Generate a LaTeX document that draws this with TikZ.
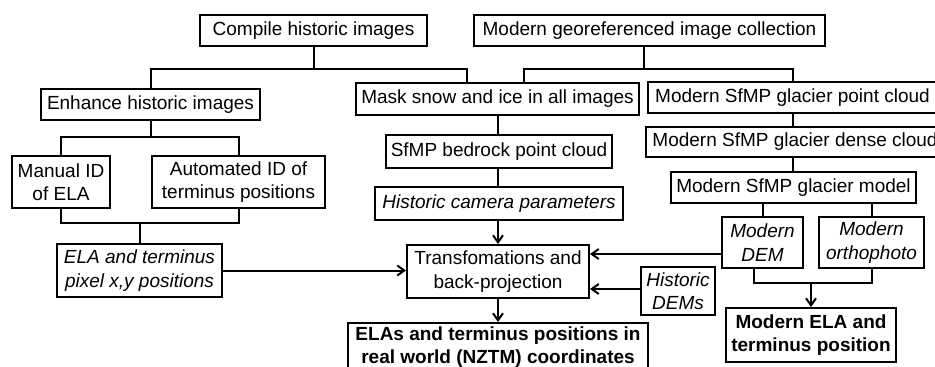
\documentclass[tikz,border=0pt]{standalone}
\usepackage{fontspec}
\setmainfont{Liberation Sans}
\usetikzlibrary{arrows.meta}
\begin{document}
\begin{tikzpicture}[x=1pt,y=-1pt,
  box/.style={draw, line width=2pt, inner sep=0pt, align=center, font=\fontsize{19}{23.5}\selectfont},
  boxit/.style={box, font=\fontsize{19}{23.5}\selectfont\itshape},
  boxbf/.style={box, font=\fontsize{19}{23}\selectfont\bfseries},
  conn/.style={line width=2pt},
  arr/.style={conn, -{Straight Barb[length=7pt,width=10pt]}}]
\useasboundingbox (0,0) rectangle (935,367);
\fill[white] (0,0) rectangle (935,367);
% nodes
\node[box, minimum width=227pt, minimum height=31pt] (compile) at (313.5,30.5) {Compile historic images};
\node[box, minimum width=351pt, minimum height=31pt] (modern) at (649.5,30.5) {Modern georeferenced image collection};
\node[box, minimum width=219pt, minimum height=31pt] (enhance) at (150.5,104.5) {Enhance historic images};
\node[box, minimum width=283pt, minimum height=32pt] (mask) at (497.5,99) {Mask snow and ice in all images};
\node[box, minimum width=289pt, minimum height=31pt] (pcloud) at (792.5,97.5) {Modern SfMP glacier point cloud};
\node[box, minimum width=298pt, minimum height=30pt] (dcloud) at (795,142) {Modern SfMP glacier dense cloud};
\node[box, minimum width=245pt, minimum height=31pt] (gmodel) at (793.5,187.5) {Modern SfMP glacier model};
\node[boxit, minimum width=81pt, minimum height=51pt] (mdem) at (762.5,242.5) {Modern\\DEM};
\node[boxit, minimum width=105pt, minimum height=51pt] (ortho) at (871.5,242.5) {Modern\\orthophoto};
\node[boxbf, minimum width=170pt, minimum height=54pt] (mela) at (811,335) {Modern ELA and\\terminus position};
\node[boxit, minimum width=74pt, minimum height=48pt] (hdem) at (678,291) {Historic\\DEMs};
\node[box, minimum width=182pt, minimum height=53pt] (trans) at (498,271.5) {Transfomations and\\back-projection};
\node[boxbf, minimum width=300pt, minimum height=48pt] (elas) at (498,347) {ELAs and terminus positions in\\real world (NZTM) coordinates};
\node[box, minimum width=226pt, minimum height=33pt] (bedrock) at (499,151.5) {SfMP bedrock point cloud};
\node[boxit, minimum width=248pt, minimum height=33pt] (camera) at (499,203.5) {Historic camera parameters};
\node[box, minimum width=98pt, minimum height=52pt] (manual) at (61,182) {Manual ID\\of ELA};
\node[box, minimum width=173pt, minimum height=52pt] (auto) at (238.5,182) {Automated ID of\\terminus positions};
\node[boxit, minimum width=165pt, minimum height=53pt] (elapix) at (139.5,270.5) {ELA and terminus\\pixel x,y positions};
% junction coordinates
\coordinate (jr) at (467,69);
\coordinate (mj) at (644,69);
\coordinate (ml) at (524,69);
\coordinate (ej) at (0,137);
\coordinate (mj2) at (0,223);
\coordinate (dj) at (754,283);
% connectors
\draw[conn] (compile.south) -- (compile.south |- jr);
\draw[conn] (enhance.north) |- (jr) -- (jr |- mask.north);
\draw[conn] (mj |- modern.south) -- (mj);
\draw[conn] (ml |- mask.north) -- (ml) -| (pcloud.north);
\draw[conn] (enhance.south) -- (enhance.south |- ej);
\draw[conn] (manual.north) |- (auto.north |- ej) -- (auto.north);
\draw[conn] (manual.south) |- (auto.south |- mj2) -- (auto.south);
\draw[conn] (elapix.north) -- (elapix.north |- mj2);
\draw[arr] (elapix.east) -- (elapix.east -| trans.west);
\draw[conn] (mask.south) -- (mask.south |- bedrock.north);
\draw[conn] (bedrock.south -| mask.south) -- (mask.south |- camera.north);
\draw[arr] (camera.south -| trans.north) -- (trans.north);
\draw[arr] (trans.south) -- (trans.south |- elas.north);
\draw[conn] (pcloud.south) -- (pcloud.south |- dcloud.north);
\draw[conn] (pcloud.south |- dcloud.south) -- (pcloud.south |- gmodel.north);
\draw[conn] (mdem.north) -- (mdem.north |- gmodel.south);
\draw[conn] (ortho.north) -- (ortho.north |- gmodel.south);
\draw[conn] (dj |- mdem.south) -- (dj) -| (ortho.south);
\draw[arr] (mela.north |- dj) -- (mela.north);
\draw[arr] ([yshift=-11.5pt]mdem.west) -- ([yshift=-11.5pt]mdem.west -| trans.east);
\draw[arr] ([yshift=2pt]hdem.west) -- ([yshift=2pt]hdem.west -| trans.east);
\end{tikzpicture}
\end{document}
